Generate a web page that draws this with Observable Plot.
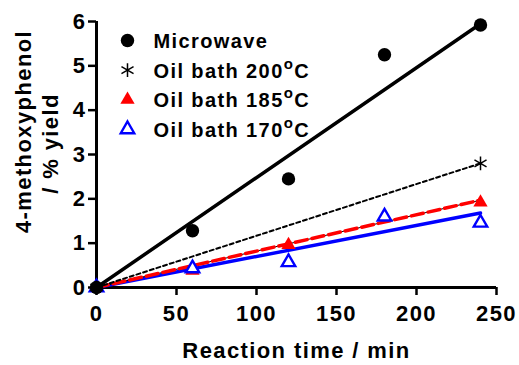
<!DOCTYPE html>
<html><head><meta charset="utf-8">
<script src="https://cdn.jsdelivr.net/npm/d3@7"></script>
<script src="https://cdn.jsdelivr.net/npm/@observablehq/plot@0.6"></script>
<style>body{margin:0;background:#fff}</style>
</head><body><div id="chart"></div>
<script>
// ---- data ----
const timeMin = [0, 60, 120, 180, 240];
const microwave = [0, 1.28, 2.45, 5.25, 5.92];
const oil200Time = [0, 240];
const oil200 = [0, 2.8];
const oil185Time = [0, 60, 120, 240];
const oil185 = [0, 0.38, 0.96, 1.92];
const oil170 = [0, 0.43, 0.57, 1.6, 1.46];
const fitTime = [0, 240];
const fitMicrowave = [0, 5.95];
const fit200 = [0, 2.8];
const fit185 = [0, 1.97];
const fit170 = [0, 1.68];
const xTicks = [0, 50, 100, 150, 200, 250];
const yTicks = [0, 1, 2, 3, 4, 5, 6];
const legendLabels = ["Microwave", "Oil bath 200°C", "Oil bath 185°C", "Oil bath 170°C"];
const xLabel = "Reaction time / min";
const yLabel = ["4-methoxyphenol", "/ % yield"];

const pts = (xs, ys) => xs.map((x, i) => ({x, y: ys[i]}));

const styles = [
  {symbol: "circle", fill: "black", stroke: "none", r: 6.7},
  {symbol: "asterisk", fill: "none", stroke: "black", r: 6.6, strokeWidth: 1.5},
  {symbol: "triangle", fill: "#ff0000", stroke: "none", r: 5.3},
  {symbol: "triangle", fill: "white", stroke: "#0000ff", r: 5.0, strokeWidth: 2.4}
];

const legendMarks = legendLabels.flatMap((lab, i) => [
  Plot.dot([lab], {frameAnchor: "top-left", dx: 31, dy: 19 + i * 29.6, ...styles[i]}),
  Plot.text([lab], {frameAnchor: "top-left", dx: 57, dy: 20 + i * 29.6, text: d => d,
    textAnchor: "start", lineAnchor: "middle", fontSize: 20, fill: "black"})
]);

const chart = Plot.plot({
  width: 519, height: 365,
  marginLeft: 96, marginRight: 23, marginTop: 21, marginBottom: 78,
  style: "font-family: 'Liberation Sans', Arial, sans-serif; font-weight: bold; letter-spacing: 1.4px; background: white; color: black;",
  x: {domain: [0, 250]},
  y: {domain: [0, 6]},
  marks: [
    Plot.axisX(xTicks, {tickSize: 8, tickPadding: 10, fontSize: 22, strokeWidth: 2.5, label: null}),
    Plot.axisY(yTicks, {tickSize: 8, tickPadding: 2, fontSize: 22, strokeWidth: 2.5, label: null}),
    Plot.ruleX([0], {strokeWidth: 3}),
    Plot.ruleY([0], {strokeWidth: 3}),
    Plot.text([xLabel], {frameAnchor: "bottom", dy: 63, text: d => d, fontSize: 22, textAnchor: "middle", lineAnchor: "middle", fill: "black"}),
    Plot.text([yLabel[0]], {frameAnchor: "left", dx: -73, dy: -23, rotate: -90, text: d => d, fontSize: 22, textAnchor: "middle", lineAnchor: "middle", fill: "black"}),
    Plot.text([yLabel[1]], {frameAnchor: "left", dx: -46, dy: -11, rotate: -90, text: d => d, fontSize: 22, textAnchor: "middle", lineAnchor: "middle", fill: "black"}),
    // fit lines
    Plot.line(pts(fitTime, fit170), {x: "x", y: "y", stroke: "#0000ff", strokeWidth: 3.5}),
    Plot.line(pts(fitTime, fit185), {x: "x", y: "y", stroke: "black", strokeWidth: 1}),
    Plot.line(pts(fitTime, fit185), {x: "x", y: "y", stroke: "#ff0000", strokeWidth: 3.5, strokeDasharray: "12,5"}),
    Plot.line(pts(fitTime, fit200), {x: "x", y: "y", stroke: "black", strokeWidth: 2, strokeDasharray: "4,3"}),
    Plot.line(pts(fitTime, fitMicrowave), {x: "x", y: "y", stroke: "black", strokeWidth: 3.5}),
    // markers
    Plot.dot(pts(oil185Time, oil185), {x: "x", y: "y", ...styles[2]}),
    Plot.dot(pts(timeMin, oil170), {x: "x", y: "y", ...styles[3]}),
    Plot.dot(pts(oil200Time, oil200), {x: "x", y: "y", ...styles[1]}),
    Plot.dot(pts(timeMin, microwave), {x: "x", y: "y", ...styles[0]}),
    ...legendMarks
  ]
});
document.getElementById("chart").appendChild(chart);

// superscript "o" in °C labels
d3.select(chart).selectAll("text").filter(function () { return this.textContent.endsWith("°C"); }).each(function () {
  const s = this.textContent;
  const t = d3.select(this);
  t.text(null);
  t.append("tspan").text(s.slice(0, -2));
  t.append("tspan").attr("dy", -9).attr("font-size", 15).text("o");
  t.append("tspan").attr("dy", 9).text("C");
});
</script>
</body></html>
